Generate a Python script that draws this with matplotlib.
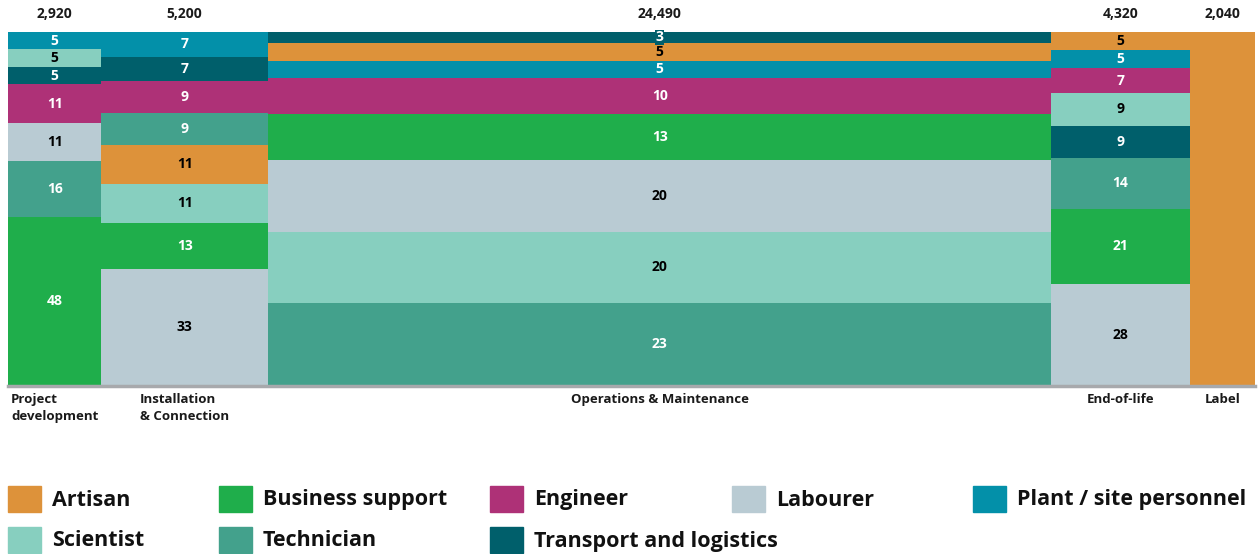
import matplotlib.pyplot as plt
from matplotlib.patches import Rectangle

plt.rcParams['font.family'] = ['Open Sans', 'DejaVu Sans']

# Phasen (Spaltenbreite ~ Anzahl Beschäftigte)
phases = ['Project\ndevelopment', 'Installation\n& Connection', 'Operations & Maintenance',
          'End-of-life', 'Label']
totals = [2920, 5200, 24490, 4320, 2040]

roles = ['Artisan', 'Business support', 'Engineer', 'Labourer', 'Plant / site personnel',
         'Scientist', 'Technician', 'Transport and logistics']
colors = {
    'Artisan': '#dd923a',
    'Business support': '#1fae4b',
    'Engineer': '#ae3177',
    'Labourer': '#b9cbd3',
    'Plant / site personnel': '#0390a9',
    'Scientist': '#87cfbf',
    'Technician': '#43a18c',
    'Transport and logistics': '#005f6b',
}
dark_text = {'Artisan', 'Labourer', 'Scientist'}

# Anteile in %, von unten nach oben gestapelt
pd_roles = ['Business support', 'Technician', 'Labourer', 'Engineer',
            'Transport and logistics', 'Scientist', 'Plant / site personnel']
pd_vals = [48, 16, 11, 11, 5, 5, 5]

ic_roles = ['Labourer', 'Business support', 'Scientist', 'Artisan', 'Technician',
            'Engineer', 'Transport and logistics', 'Plant / site personnel']
ic_vals = [33, 13, 11, 11, 9, 9, 7, 7]

om_roles = ['Technician', 'Scientist', 'Labourer', 'Business support', 'Engineer',
            'Plant / site personnel', 'Artisan', 'Transport and logistics']
om_vals = [23, 20, 20, 13, 10, 5, 5, 3]

eol_roles = ['Labourer', 'Business support', 'Technician', 'Transport and logistics',
             'Scientist', 'Engineer', 'Plant / site personnel', 'Artisan']
eol_vals = [28, 21, 14, 9, 9, 7, 5, 5]

label_roles = ['Artisan']
label_vals = [100]

stacks = [(pd_roles, pd_vals, True), (ic_roles, ic_vals, True), (om_roles, om_vals, True),
          (eol_roles, eol_vals, True), (label_roles, label_vals, False)]

fig = plt.figure(figsize=(12.59, 5.54), dpi=100)
ax = fig.add_axes([8 / 1259, 1 - 385 / 554, 1247 / 1259, 353 / 554])

x0 = 0
for (names, vals, show), total, phase in zip(stacks, totals, phases):
    col_sum = sum(vals)
    y0 = 0
    for name, v in zip(names, vals):
        h = v / col_sum * 100
        ax.bar(x0, h, width=total, bottom=y0, align='edge', color=colors[name], linewidth=0)
        if show:
            tc = 'black' if name in dark_text else 'white'
            bbox = None
            if h < 4:
                bbox = dict(boxstyle='square,pad=0.05', fc=colors[name], ec='none')
            ax.text(x0 + total / 2, y0 + h / 2, f'{v}', ha='center', va='center',
                    fontsize=10, fontweight='bold', color=tc, bbox=bbox)
        y0 += h
    ax.annotate(f'{total:,}', (x0 + total / 2, 100), xytext=(0, 8), textcoords='offset points',
                ha='center', va='bottom', fontsize=10, fontweight='bold', color='#1a1a1a')
    ax.annotate(phase, (x0 + total / 2, 0), xytext=(0, -6), textcoords='offset points',
                ha='center', va='top', multialignment='left', fontsize=9.5,
                fontweight='bold', color='#1a1a1a', linespacing=1.4)
    x0 += total

ax.set_xlim(0, sum(totals))
ax.set_ylim(0, 100)
ax.axhline(-0.4, color='#a7a9ac', lw=2.5, clip_on=False, zorder=3)
ax.axis('off')

# Legende als freies Layout (zwei Zeilen)
legend_pos = [(8, 499), (219, 499), (490, 499), (732, 499), (973, 499),
              (8, 540), (219, 540), (490, 540)]
for name, (px, py) in zip(roles, legend_pos):
    fig.patches.append(Rectangle((px / 1259, 1 - (py + 13) / 554), 33 / 1259, 26 / 554,
                                 transform=fig.transFigure, color=colors[name]))
    fig.text((px + 44) / 1259, 1 - (py + 1) / 554, name, ha='left', va='center',
             fontsize=15.5, fontweight='bold', color='#111111')

fig.savefig('out.png', dpi=100)
